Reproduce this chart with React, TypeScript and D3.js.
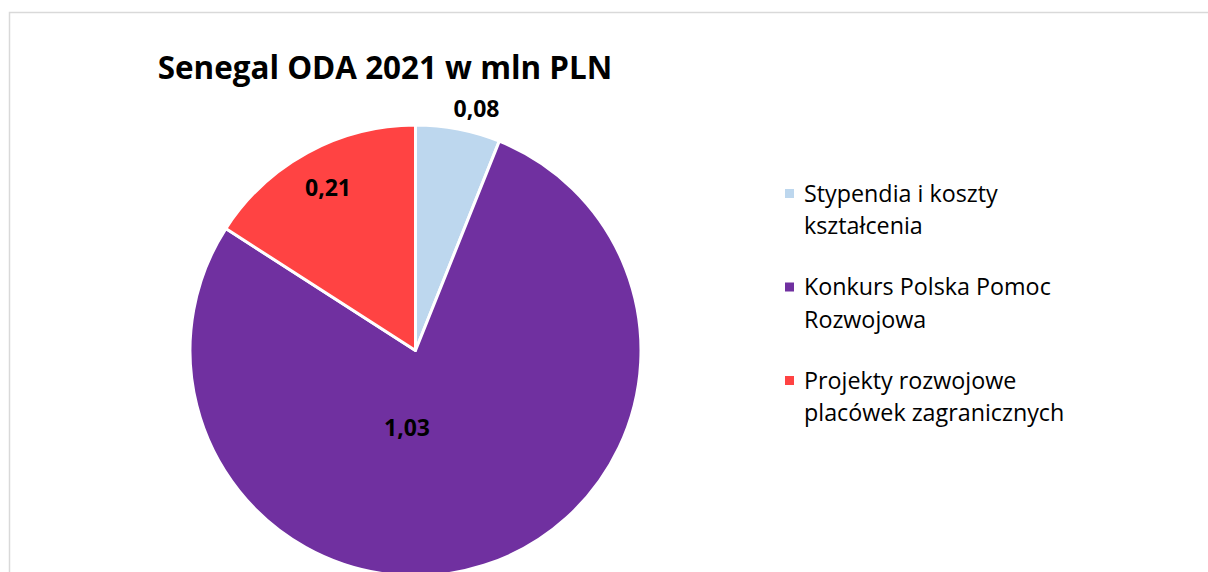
import React from "react";
import * as d3 from "d3";

const categories = ["Stypendia i koszty kształcenia", "Konkurs Polska Pomoc Rozwojowa", "Projekty rozwojowe placówek zagranicznych"];
const legendLines = [["Stypendia i koszty", "kształcenia"], ["Konkurs Polska Pomoc", "Rozwojowa"], ["Projekty rozwojowe", "placówek zagranicznych"]];
const values = [0.08, 1.03, 0.21];
const valueLabels = ["0,08", "1,03", "0,21"];
const colors = ["#BDD7EE", "#7030A0", "#FF4343"];

const W = 1208, H = 572;
const cx = 415.5, cy = 350.5, R = 225.5;
const FONT = "'Open Sans', Lato, sans-serif";

export default function App() {
  const pie = d3.pie<number>().sort(null).value(d => d);
  const arcs = pie(values);
  const arc = d3.arc<d3.PieArcDatum<number>>().innerRadius(0).outerRadius(R);
  const labelPos: [number, number][] = [
    [476.5 - cx, 108 - cy],
    [407 - cx, 427 - cy],
    [328 - cx, 187 - cy],
  ];
  return (
    <svg width={W} height={H} style={{ position: "absolute", left: 0, top: 0 }}>
      <rect x={0} y={0} width={W} height={H} fill="#fff" />
      <rect x={9.5} y={12.5} width={W + 20} height={H + 20} fill="#fff" stroke="#d9d9d9" strokeWidth={1.5} />
      <text x={385} y={78.5} textAnchor="middle" fontFamily={FONT} fontWeight="bold" fontSize={31.4} fill="#000">
        Senegal ODA 2021 w mln PLN
      </text>
      <g transform={`translate(${cx},${cy})`}>
        {arcs.map((a, i) => (
          <path key={i} d={arc(a) || ""} fill={colors[i]} stroke="#fff" strokeWidth={3} strokeLinejoin="round" />
        ))}
        {arcs.map((a, i) => (
          <text key={"l" + i} x={labelPos[i][0]} y={labelPos[i][1]} textAnchor="middle" dominantBaseline="central"
            fontFamily={FONT} fontWeight="bold" fontSize={23} fill="#000">
            {valueLabels[i]}
          </text>
        ))}
      </g>
      <g>
        {categories.map((c, i) => {
          const y0 = 201.5 + i * 93.5;
          return (
            <g key={c}>
              <rect x={785} y={y0 - 12.5} width={9} height={9} fill={colors[i]} />
              {legendLines[i].map((ln, j) => (
                <text key={j} x={804} y={y0 + j * 32.5} fontFamily={FONT} fontSize={23.3} fill="#000">{ln}</text>
              ))}
            </g>
          );
        })}
      </g>
    </svg>
  );
}
